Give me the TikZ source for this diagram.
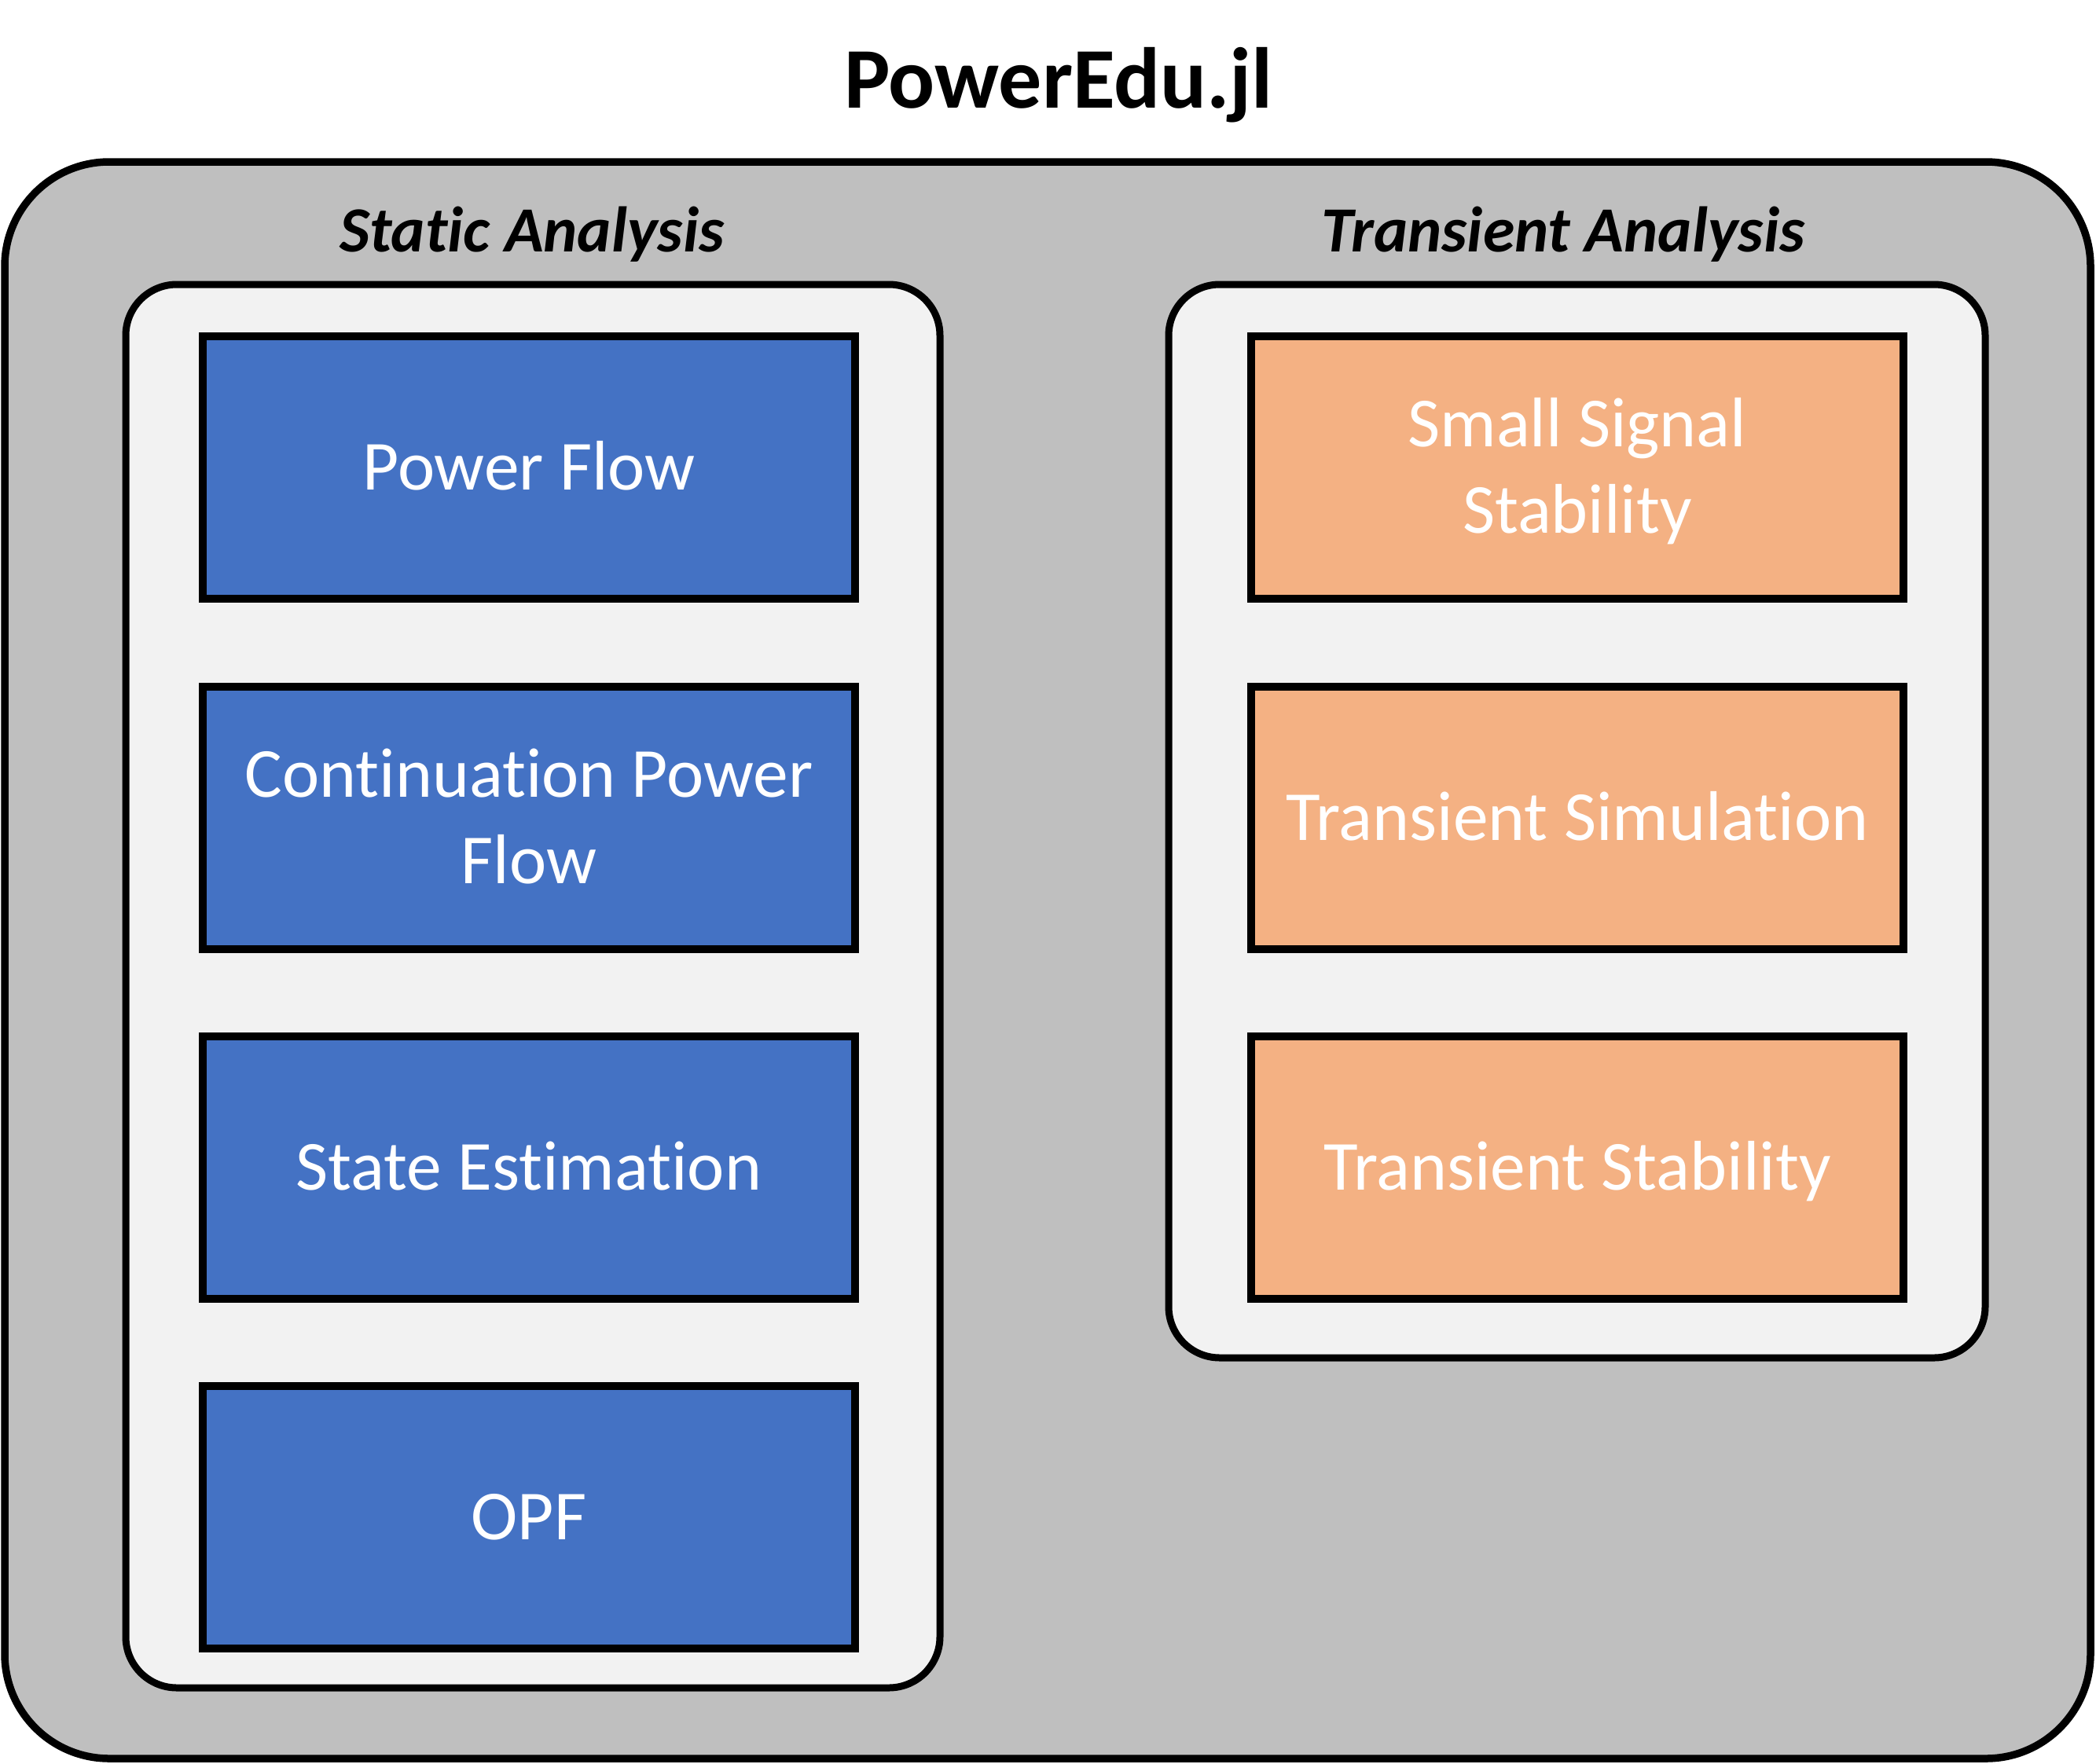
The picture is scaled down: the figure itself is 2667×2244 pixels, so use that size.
\documentclass[tikz,border=0pt]{standalone}
\usepackage{fontspec}
\setmainfont{Carlito}[Ligatures={NoCommon}]
\definecolor{outerfill}{HTML}{BFBFBF}
\definecolor{innerfill}{HTML}{F2F2F2}
\definecolor{bluefill}{HTML}{4472C4}
\definecolor{orangefill}{HTML}{F4B183}
\tikzset{
  outerbox/.style={draw=black, line width=9.5pt, fill=outerfill, rounded corners=133pt, inner sep=0pt},
  groupbox/.style={draw=black, line width=9pt, fill=innerfill, rounded corners=65pt, inner sep=0pt},
  modbox/.style={draw=black, line width=10pt, inner sep=0pt, minimum width=830pt, minimum height=334pt,
    text=white, align=center, font=\fontsize{89.5}{110}\selectfont, text height=56pt, text depth=0pt},
  twoline/.style={text height=166pt, text depth=0pt},
  staticbox/.style={modbox, fill=bluefill},
  transbox/.style={modbox, fill=orangefill},
  grouplabel/.style={anchor=base, inner sep=0pt, font=\fontsize{82}{98}\selectfont\bfseries\itshape},
  titlelabel/.style={anchor=base, inner sep=0pt, font=\fontsize{110}{132}\selectfont\bfseries}
}
\begin{document}
\begin{tikzpicture}[x=1pt, y=-1pt]
\useasboundingbox (0,0) rectangle (2667,2244);
% outer container
\node[outerbox, minimum width=2654pt, minimum height=2032pt] (outer) at (1333,1222) {};
\node[titlelabel] (title) at (1347,137) {PowerEdu.jl};
% group containers
\node[groupbox, minimum width=1036pt, minimum height=1786pt] (static) at (678,1255) {};
\node[groupbox, minimum width=1039pt, minimum height=1366pt] (transient) at (2006.5,1045) {};
\node[grouplabel] (staticlabel) at (677,320) {Static Analysis};
\node[grouplabel] (transientlabel) at (1989,320) {Transient Analysis};
% static analysis modules
\node[staticbox] (pf) at (673,595) {Power Flow};
\node[staticbox, twoline] (cpf) at (673,1041) {Continuation Power\\Flow};
\node[staticbox] (se) at (673,1486) {State Estimation};
\node[staticbox] (opf) at (673,1931) {OPF};
% transient analysis modules
\node[transbox, twoline] (sss) at (2007,595) {Small Signal\\Stability};
\node[transbox] (tsim) at (2007,1041) {Transient Simulation};
\node[transbox] (tstab) at (2007,1486) {Transient Stability};
\end{tikzpicture}
\end{document}
